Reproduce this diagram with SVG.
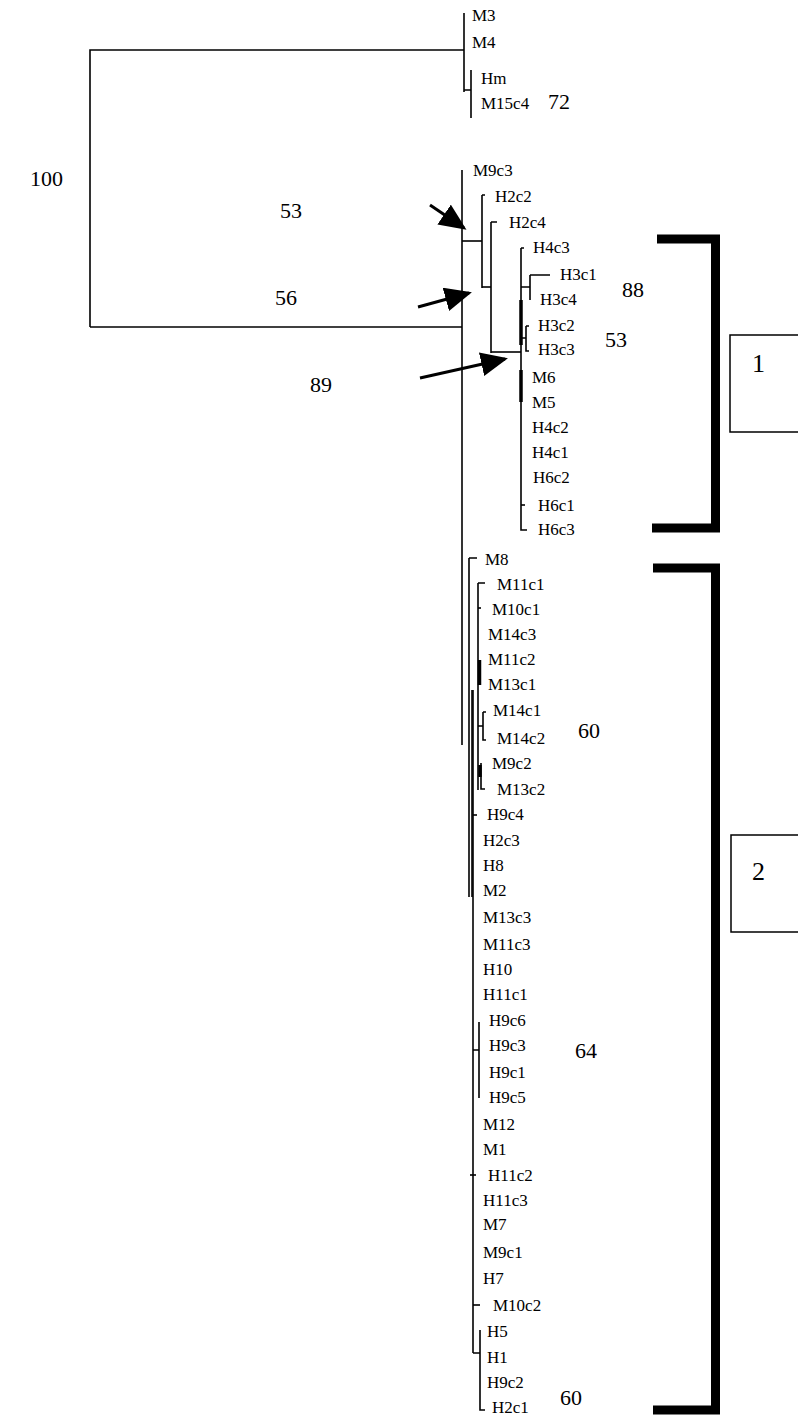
<svg xmlns="http://www.w3.org/2000/svg" width="798" height="1419" viewBox="0 0 798 1419">
<style>
.t{font-family:"Liberation Serif",serif;font-size:17px;fill:#000}
.tm{font-family:"Liberation Serif",serif;font-size:17px;fill:#000}
.n{font-family:"Liberation Serif",serif;font-size:22px;fill:#000}
.b{font-family:"Liberation Serif",serif;font-size:26px;fill:#000}
.l{stroke:#000;stroke-width:1.6;fill:none}
.k{stroke:#000;stroke-width:3.5;fill:none}
.br{stroke:#000;stroke-width:9;fill:none}
.ar{stroke:#000;stroke-width:3;fill:none}
</style>
<defs>
<marker id="ah" markerWidth="9" markerHeight="8" refX="8" refY="4" orient="auto" markerUnits="strokeWidth">
<path d="M0,0 L9,4 L0,8 Z" fill="#000"/>
</marker>
</defs>
<rect width="798" height="1419" fill="#fff"/>
<g id="connectors">
<path class="l" d="M90,327 V50 H464"/>
<path class="l" d="M464,13 V92"/>
<path class="l" d="M464,90 H471 M471,70 V118"/>
<path class="l" d="M90,327 H462"/>
<path class="l" d="M462,170 V745"/>
<path class="l" d="M462,241 H482"/>
<path class="l" d="M482,195 H485 M482,195 V288"/>
<path class="l" d="M482,287 H491"/>
<path class="l" d="M491,222 H497 M491,222 V353"/>
<path class="l" d="M491,352 H521"/>
<path class="l" d="M521,248 H524 M521,248 V530 H527"/>
<path class="l" d="M521,287 H530 M530,275 H550 M530,275 V300"/>
<path class="l" d="M521,338 H526 M526,326 H529 M526,326 V351 H529"/>
<path class="k" d="M521,300 V345"/>
<path class="k" d="M521,370 V402"/>
<path class="l" d="M521,505 H525"/>
<path class="l" d="M469,558 H477 M469,558 V897"/>
<path class="l" d="M472,690 V897"/>
<path class="l" d="M473,690 V1353"/>
<path class="l" d="M478,583 H485 M478,583 V790"/>
<path class="l" d="M478,608 H481"/>
<path class="k" d="M479.5,660 V685"/>
<path class="l" d="M478,726 H483 M483,712 H486 M483,712 V740 H486"/>
<path class="k" d="M480,765 V777"/>
<path class="l" d="M481,763 V789 H485"/>
<path class="l" d="M473,815 H477"/>
<path class="l" d="M473,1050 H479 M479,1022 V1098"/>
<path class="l" d="M470,1175 H476"/>
<path class="l" d="M473,1305 H480"/>
<path class="l" d="M473,1353 H480 M480,1330 V1410 H485"/>
<path class="ar" d="M430,205 L464,228" marker-end="url(#ah)"/>
<path class="ar" d="M418,307 L469,293" marker-end="url(#ah)"/>
<path class="ar" d="M420,378 L505,359" marker-end="url(#ah)"/>
<path class="br" d="M657,239 H715.5 V528 H652"/>
<path class="br" d="M653,568 H715.5 V1410 H653"/>
</g>
<g id="box1"><path d="M798,335 H730 V432 H798" stroke="#000" stroke-width="1.5" fill="none"/><text class="b" x="752" y="372">1</text></g>
<g id="box2"><path d="M798,835 H731 V932 H798" stroke="#000" stroke-width="1.5" fill="none"/><text class="b" x="752" y="880">2</text></g>
<g id="support">
<text class="n" x="30" y="186">100</text>
<text class="n" x="280" y="218">53</text>
<text class="n" x="275" y="305">56</text>
<text class="n" x="310" y="392">89</text>
<text class="n" x="548" y="109">72</text>
<text class="n" x="622" y="297">88</text>
<text class="n" x="605" y="347">53</text>
<text class="n" x="578" y="738">60</text>
<text class="n" x="575" y="1058">64</text>
<text class="n" x="560" y="1405">60</text>
</g>
<g id="leaf-M3"><text class="tm" x="472" y="21">M3</text></g>
<g id="leaf-M4"><text class="tm" x="472" y="48">M4</text></g>
<g id="leaf-Hm"><text class="tm" x="481" y="84">Hm</text></g>
<g id="leaf-M15c4"><text class="tm" x="481" y="109">M15c4</text></g>
<g id="leaf-M9c3"><text class="tm" x="473" y="176">M9c3</text></g>
<g id="leaf-H2c2"><text class="tm" x="495" y="202">H2c2</text></g>
<g id="leaf-H2c4"><text class="tm" x="509" y="228">H2c4</text></g>
<g id="leaf-H4c3"><text class="tm" x="533" y="253">H4c3</text></g>
<g id="leaf-H3c1"><text class="tm" x="560" y="280">H3c1</text></g>
<g id="leaf-H3c4"><text class="tm" x="540" y="305">H3c4</text></g>
<g id="leaf-H3c2"><text class="tm" x="538" y="331">H3c2</text></g>
<g id="leaf-H3c3"><text class="tm" x="538" y="355">H3c3</text></g>
<g id="leaf-M6"><text class="tm" x="532" y="383">M6</text></g>
<g id="leaf-M5"><text class="tm" x="532" y="408">M5</text></g>
<g id="leaf-H4c2"><text class="tm" x="532" y="433">H4c2</text></g>
<g id="leaf-H4c1"><text class="tm" x="532" y="458">H4c1</text></g>
<g id="leaf-H6c2"><text class="tm" x="533" y="483">H6c2</text></g>
<g id="leaf-H6c1"><text class="tm" x="538" y="511">H6c1</text></g>
<g id="leaf-H6c3"><text class="tm" x="538" y="535">H6c3</text></g>
<g id="leaf-M8"><text class="t" x="485" y="565">M8</text></g>
<g id="leaf-M11c1"><text class="t" x="497" y="590">M11c1</text></g>
<g id="leaf-M10c1"><text class="t" x="492" y="615">M10c1</text></g>
<g id="leaf-M14c3"><text class="t" x="488" y="640">M14c3</text></g>
<g id="leaf-M11c2"><text class="t" x="488" y="665">M11c2</text></g>
<g id="leaf-M13c1"><text class="t" x="488" y="690">M13c1</text></g>
<g id="leaf-M14c1"><text class="t" x="493" y="716">M14c1</text></g>
<g id="leaf-M14c2"><text class="t" x="497" y="744">M14c2</text></g>
<g id="leaf-M9c2"><text class="t" x="492" y="769">M9c2</text></g>
<g id="leaf-M13c2"><text class="t" x="497" y="795">M13c2</text></g>
<g id="leaf-H9c4"><text class="t" x="487" y="820">H9c4</text></g>
<g id="leaf-H2c3"><text class="t" x="483" y="846">H2c3</text></g>
<g id="leaf-H8"><text class="t" x="483" y="871">H8</text></g>
<g id="leaf-M2"><text class="t" x="483" y="896">M2</text></g>
<g id="leaf-M13c3"><text class="t" x="483" y="923">M13c3</text></g>
<g id="leaf-M11c3"><text class="t" x="483" y="950">M11c3</text></g>
<g id="leaf-H10"><text class="t" x="483" y="975">H10</text></g>
<g id="leaf-H11c1"><text class="t" x="483" y="1000">H11c1</text></g>
<g id="leaf-H9c6"><text class="t" x="489" y="1026">H9c6</text></g>
<g id="leaf-H9c3"><text class="t" x="489" y="1051">H9c3</text></g>
<g id="leaf-H9c1"><text class="t" x="489" y="1078">H9c1</text></g>
<g id="leaf-H9c5"><text class="t" x="489" y="1103">H9c5</text></g>
<g id="leaf-M12"><text class="t" x="483" y="1130">M12</text></g>
<g id="leaf-M1"><text class="t" x="483" y="1155">M1</text></g>
<g id="leaf-H11c2"><text class="t" x="488" y="1181">H11c2</text></g>
<g id="leaf-H11c3"><text class="t" x="483" y="1206">H11c3</text></g>
<g id="leaf-M7"><text class="t" x="483" y="1230">M7</text></g>
<g id="leaf-M9c1"><text class="t" x="483" y="1258">M9c1</text></g>
<g id="leaf-H7"><text class="t" x="483" y="1284">H7</text></g>
<g id="leaf-M10c2"><text class="t" x="493" y="1311">M10c2</text></g>
<g id="leaf-H5"><text class="t" x="487" y="1337">H5</text></g>
<g id="leaf-H1"><text class="t" x="487" y="1363">H1</text></g>
<g id="leaf-H9c2"><text class="t" x="487" y="1388">H9c2</text></g>
<g id="leaf-H2c1"><text class="t" x="492" y="1413">H2c1</text></g>
</svg>
